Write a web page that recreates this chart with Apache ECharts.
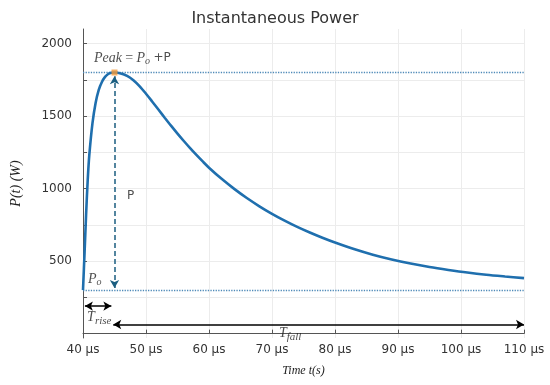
<!DOCTYPE html>
<html>
<head>
<meta charset="utf-8">
<script src="https://cdn.jsdelivr.net/npm/echarts@6/dist/echarts.min.js"></script>
<style>html,body{margin:0;padding:0;background:#fff}#c{width:550px;height:385px}</style>
</head>
<body>
<div id="c"></div>
<script>
// Time (µs) and instantaneous power (W)
var times  = [40, 40.25, 40.5, 40.75, 41, 41.5, 42, 42.5, 43, 43.5, 44, 44.5, 45, 46, 47, 48, 49, 50, 51, 52, 53, 54, 55, 56, 57, 58, 59, 60, 62, 64, 66, 68, 70, 72, 74, 76, 78, 80, 83, 86, 89, 92, 95, 98, 101, 104, 107, 110];
var power  = [300, 560, 830, 1060, 1230, 1450, 1590, 1680, 1735, 1770, 1790, 1798, 1800, 1794, 1777, 1747, 1705, 1654, 1599, 1543, 1487, 1432, 1379, 1328, 1279, 1232, 1187, 1144, 1067, 998, 935, 878, 826, 779, 736, 697, 661, 628, 583, 544, 511, 483, 459, 439, 421, 406, 394, 383];
var xTicks = [40, 50, 60, 70, 80, 90, 100, 110];
var yTickLabels = [500, 1000, 1500, 2000];
var yTicks = [0, 250, 500, 750, 1000, 1250, 1500, 1750, 2000];
var P0 = 300, PEAK = 1800, tPeak = 45, tStart = 40, tEnd = 110;
// annotation anchor points [time, power]
var peakLabelAt = [41.75, 1899];
var pLabelAt = [47.0, 948];
var p0LabelAt = [40.8, 376];
var tRiseLabelAt = [40.65, 114];
var tFallLabelAt = [71.1, 5];
var tRiseArrow = [[40.3, 190], [44.5, 190]];
var tFallArrow = [[44.8, 63], [110, 63]];
var pArrow = [[45, 315], [45, 1775]];

var chart = echarts.init(document.getElementById('c'), null, {renderer: 'canvas'});
var data = times.map(function (t, i) { return [t, power[i]]; });
var serif = 'Liberation Serif';
var sans = 'DejaVu Sans';
function txt(pos, fmt, rich) {
  return {
    type: 'scatter', symbolSize: 0, silent: true, z: 10,
    data: [pos],
    label: {show: true, position: 'right', distance: 0, formatter: fmt, rich: rich, color: '#222'}
  };
}
var mathRich = {
  i: {fontFamily: serif, fontStyle: 'italic', fontSize: 14, color: '#222'},
  n: {fontFamily: serif, fontSize: 14, color: '#222'},
  s: {fontFamily: serif, fontStyle: 'italic', fontSize: 10, color: '#222', padding: [7, 0, 0, 0]},
  ss: {fontFamily: serif, fontStyle: 'italic', fontSize: 11, color: '#222', padding: [8, 0, 0, 0]},
  sa: {fontFamily: sans, fontSize: 12, color: '#222'}
};
var option = {
  animation: false,
  backgroundColor: '#fff',
  title: {text: 'Instantaneous Power', left: 'center', top: 6,
    textStyle: {fontFamily: sans, fontSize: 16, fontWeight: 'normal', color: '#333'}},
  grid: {left: 83, right: 26, top: 29, bottom: 47},
  xAxis: {
    type: 'value', min: tStart, max: tEnd, interval: 10,
    name: 'Time t(s)', nameLocation: 'middle', nameGap: 27,
    nameTextStyle: {fontFamily: serif, fontStyle: 'italic', fontSize: 12, color: '#222'},
    axisLine: {show: true, lineStyle: {color: '#555', width: 1}},
    axisTick: {show: true, inside: true, length: 4, lineStyle: {color: '#555'}},
    axisLabel: {fontFamily: sans, fontSize: 12, color: '#333', margin: 6,
      formatter: function (v) { return v + ' µs'; }},
    splitLine: {show: true, lineStyle: {color: '#ececec', width: 1}}
  },
  yAxis: {
    type: 'value', min: -30, max: 2100,
    name: 'P(t) (W)', nameLocation: 'middle', nameGap: 60,
    nameTextStyle: {fontFamily: serif, fontStyle: 'italic', fontSize: 14, color: '#222'},
    axisLine: {show: true, lineStyle: {color: '#555', width: 1}},
    axisTick: {show: true, inside: true, length: 4, lineStyle: {color: '#555'}, customValues: yTicks},
    axisLabel: {fontFamily: sans, fontSize: 12, color: '#333', margin: 11, customValues: yTickLabels,
      formatter: function (v) { return String(v); }},
    splitLine: {show: true, lineStyle: {color: '#ececec', width: 1}}
  },
  series: [
    {
      type: 'line', data: data, smooth: 0.3, showSymbol: false, z: 5,
      lineStyle: {color: '#1f6fae', width: 2.6},
      markLine: {
        silent: true, animation: false,
        label: {show: false},
        data: [
          [{coord: [tStart, PEAK], symbol: 'none'}, {coord: [tEnd, PEAK], symbol: 'none',
            lineStyle: {color: '#4f8ab8', type: 'dotted', width: 1.3}}],
          [{coord: [tStart, P0], symbol: 'none'}, {coord: [tEnd, P0], symbol: 'none',
            lineStyle: {color: '#4f8ab8', type: 'dotted', width: 1.3}}],
          [{coord: pArrow[0], symbol: 'arrow', symbolSize: [7, 8]}, {coord: pArrow[1], symbol: 'arrow', symbolSize: [7, 8],
            lineStyle: {color: '#1b5e80', type: [5, 3], width: 1.5}}],
          [{coord: tRiseArrow[0], symbol: 'arrow', symbolSize: [7, 8]}, {coord: tRiseArrow[1], symbol: 'arrow', symbolSize: [7, 8],
            lineStyle: {color: '#000', type: 'solid', width: 1.5}}],
          [{coord: tFallArrow[0], symbol: 'arrow', symbolSize: [7, 8]}, {coord: tFallArrow[1], symbol: 'arrow', symbolSize: [7, 8],
            lineStyle: {color: '#000', type: 'solid', width: 1.5}}]
        ]
      }
    },
    {type: 'scatter', data: [[tPeak, PEAK]], symbol: 'rect', symbolSize: 6, z: 12,
      itemStyle: {color: '#f39a3a'}, silent: true},
    txt(peakLabelAt, '{i|Peak} {n|=} {i|P}{s|o} {sa|+P}', mathRich),
    txt(pLabelAt, '{sa|P}', mathRich),
    txt(p0LabelAt, '{i|P}{s|o}', mathRich),
    txt(tRiseLabelAt, '{i|T}{ss|rise}', mathRich),
    txt(tFallLabelAt, '{i|T}{ss|fall}', mathRich)
  ]
};
chart.setOption(option);
</script>
</body>
</html>
